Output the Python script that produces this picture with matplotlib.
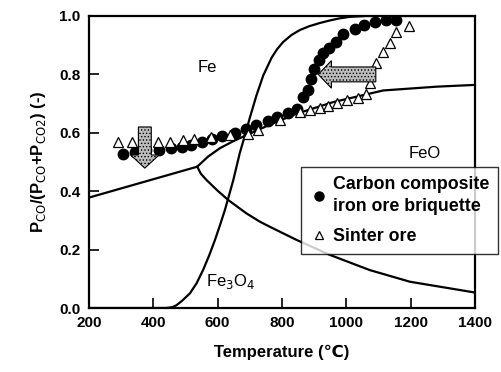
import numpy as np
import matplotlib
matplotlib.use("Agg")
import matplotlib.pyplot as plt
from matplotlib.lines import Line2D

plt.rcParams['font.family'] = ['Liberation Sans', 'DejaVu Sans']
plt.rcParams['hatch.linewidth'] = 0.6

# carbon composite iron ore briquette (filled circles)
cc_T = [307, 343, 377, 418, 455, 488, 519, 551, 582, 614, 654, 688, 721, 757, 785,
        820, 848, 866, 882, 889, 899, 916, 928, 947, 968, 991, 1027, 1055, 1089, 1125, 1156]
cc_y = [0.526, 0.535, 0.541, 0.541, 0.548, 0.550, 0.557, 0.568, 0.580, 0.589, 0.600,
        0.612, 0.627, 0.641, 0.653, 0.667, 0.680, 0.722, 0.747, 0.785, 0.817, 0.849,
        0.874, 0.889, 0.912, 0.938, 0.954, 0.969, 0.981, 0.986, 0.986]

# sinter ore (open triangles)
so_T = [291, 333, 375, 414, 452, 493, 526, 581, 638, 694, 726, 794, 856, 887, 918,
        944, 970, 1001, 1037, 1061, 1073, 1092, 1113, 1136, 1156, 1196]
so_y = [0.567, 0.567, 0.570, 0.570, 0.570, 0.575, 0.578, 0.587, 0.594, 0.596, 0.610,
        0.644, 0.672, 0.678, 0.684, 0.692, 0.701, 0.712, 0.718, 0.732, 0.771, 0.840,
        0.878, 0.906, 0.946, 0.966]

# Boudouard equilibrium curve
bd_T = [200, 440, 460, 473, 490, 514, 535, 555, 574, 592, 608, 623, 649, 669, 690,
        700, 721, 742, 768, 785, 804, 830, 856, 885, 918, 950, 980, 1011, 1060, 1400]
bd_y = [0.0, 0.0, 0.003, 0.01, 0.025, 0.05, 0.085, 0.13, 0.18, 0.233, 0.285, 0.336,
        0.438, 0.53, 0.61, 0.65, 0.728, 0.796, 0.857, 0.886, 0.911, 0.935, 0.952,
        0.965, 0.976, 0.985, 0.992, 0.997, 1.0, 1.0]

# Fe3O4 / Fe
mf_T = [200, 537]
mf_y = [0.378, 0.484]

# FeO / Fe
wf_T = [537, 570, 607, 650, 690, 757, 845, 959, 1115, 1281, 1400]
wf_y = [0.484, 0.518, 0.547, 0.572, 0.592, 0.625, 0.665, 0.705, 0.745, 0.758, 0.764]

# Fe3O4 / FeO
mw_T = [537, 548, 566, 600, 633, 690, 731, 763, 846, 949, 1073, 1198, 1384, 1400]
mw_y = [0.484, 0.460, 0.438, 0.402, 0.370, 0.324, 0.296, 0.278, 0.233, 0.182, 0.130,
        0.090, 0.056, 0.053]

fig = plt.figure(figsize=(5.02, 3.72), dpi=100)
ax = fig.add_axes([0.177, 0.172, 0.769, 0.785])

for T, y in [(bd_T, bd_y), (mf_T, mf_y), (wf_T, wf_y), (mw_T, mw_y)]:
    ax.plot(T, y, color='black', lw=1.6, zorder=2, solid_joinstyle='round')

ax.plot(cc_T, cc_y, 'o', color='black', ms=7.5, zorder=3)
ax.plot(so_T, so_y, '^', mfc='white', mec='black', mew=0.9, ms=6.5, zorder=3)

# arrows
ax.arrow(374, 0.62, 0, -0.141, width=40, head_width=88, head_length=0.045,
         length_includes_head=True, fc='#bdbdbd', ec='black', lw=0.8,
         hatch='.....', zorder=4)
ax.arrow(1092, 0.800, -179, 0, width=0.051, head_width=0.094, head_length=41,
         length_includes_head=True, fc='#bdbdbd', ec='black', lw=0.8,
         hatch='.....', zorder=4)

ax.text(567, 0.825, 'Fe', fontsize=12, ha='center', va='center')
ax.text(1244, 0.53, 'FeO', fontsize=12, ha='center', va='center')
ax.text(640, 0.09, 'Fe$_3$O$_4$', fontsize=12, ha='center', va='center')

ax.set_xlim(200, 1400)
ax.set_ylim(0, 1.0)
ax.set_xticks([200, 400, 600, 800, 1000, 1200, 1400])
ax.set_yticks([0.0, 0.2, 0.4, 0.6, 0.8, 1.0])
ax.set_yticklabels(['0.0', '0.2', '0.4', '0.6', '0.8', '1.0'])
ax.tick_params(direction='in', length=7, width=1.2, labelsize=11, pad=6)
for lab in ax.get_xticklabels() + ax.get_yticklabels():
    lab.set_fontweight('bold')
for s in ax.spines.values():
    s.set_linewidth(1.6)

ax.set_xlabel('Temperature (\u2103)', fontsize=12, fontweight='bold', labelpad=10)
ax.set_ylabel('P$_{\\mathsf{CO}}$/(P$_{\\mathsf{CO}}$+P$_{\\mathsf{CO2}}$) (-)',
              fontsize=12, fontweight='bold', labelpad=8)

handles = [Line2D([], [], ls='none', marker='o', color='black', ms=6.5),
           Line2D([], [], ls='none', marker='^', mfc='white', mec='black', mew=0.9, ms=5.5)]
leg = fig.legend(handles, ['Carbon composite\niron ore briquette', 'Sinter ore'],
                 loc='upper left', bbox_to_anchor=(0.600, 0.550),
                 bbox_transform=fig.transFigure, frameon=True, fancybox=False,
                 edgecolor='black', handletextpad=0.3, handlelength=1.0,
                 borderpad=0.5, labelspacing=0.75, borderaxespad=0,
                 prop={'weight': 'bold', 'size': 12.8})
leg.get_texts()[0].set_linespacing(1.35)
leg.get_frame().set_linewidth(1.0)
leg.set_zorder(5)

fig.savefig('out.png', dpi=100)
